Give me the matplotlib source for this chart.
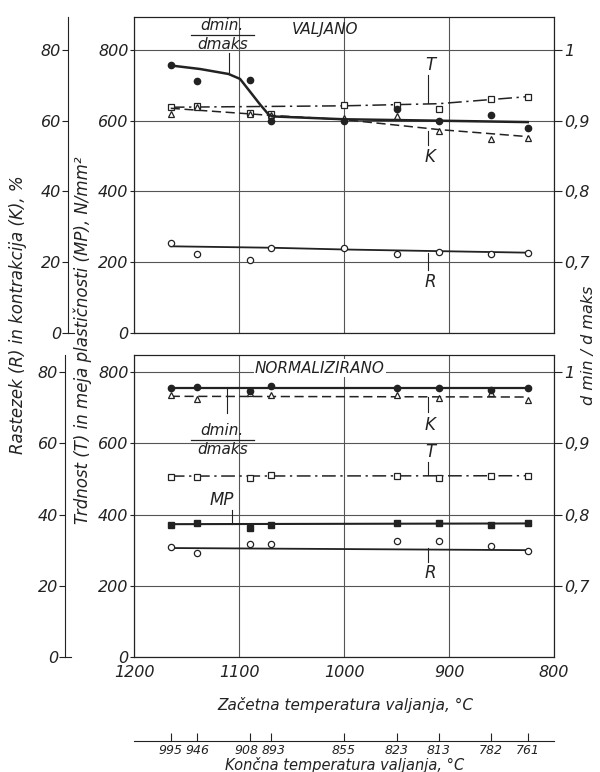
import matplotlib.pyplot as plt
import matplotlib.transforms as mtransforms
import numpy as np

plt.rcParams['font.family'] = ['DejaVu Sans']
plt.rcParams['font.style'] = 'italic'
plt.rcParams['text.color'] = '#222222'
plt.rcParams['axes.edgecolor'] = '#222222'
plt.rcParams['xtick.color'] = '#222222'
plt.rcParams['ytick.color'] = '#222222'

# začetna in končna temperatura valjanja, °C
t_start = [1165, 1140, 1090, 1070, 1000, 950, 910, 860, 825]
t_end = [995, 946, 908, 893, 855, 823, 813, 782, 761]

# VALJANO - izmerjene točke
val_d = [0.978, 0.956, 0.957, 0.900, 0.900, 0.916, 0.900, 0.908, 0.890]
val_T = [640, 642, 622, 618, 645, 645, 632, 662, 668]
val_K = [62.0, 63.8, 61.8, 61.5, 60.8, 61.2, 57.2, 54.8, 55.2]
val_R = [25.5, 22.4, 20.7, 24.1, 24.1, 22.4, 23.0, 22.4, 22.7]

# VALJANO - izravnane krivulje
val_d_fit_x = [1165, 1137, 1110, 1099, 1090, 1080, 1072, 1068, 1000, 910, 825]
val_d_fit = [0.978, 0.973, 0.966, 0.959, 0.942, 0.923, 0.909, 0.906, 0.902, 0.900, 0.898]
val_T_fit_x = [1165, 1000, 910, 825]
val_T_fit = [638, 642, 648, 668]
val_K_fit_x = [1165, 1070, 1000, 910, 825]
val_K_fit = [63.5, 61.5, 60.3, 57.5, 55.5]
val_R_fit_x = [1165, 1070, 1000, 825]
val_R_fit = [24.5, 24.1, 23.6, 22.7]

# NORMALIZIRANO - izmerjene točke
nan = np.nan
nor_d = [0.978, 0.979, 0.973, 0.981, nan, 0.977, 0.978, 0.975, 0.978]
nor_T = [506, 506, 503, 512, nan, 509, 503, 509, 509]
nor_MP = [370, 376, 362, 370, nan, 376, 376, 370, 376]
nor_K = [73.5, 72.5, 74.0, 73.5, nan, 73.5, 72.6, 74.0, 72.3]
nor_R = [30.8, 29.1, 31.7, 31.7, nan, 32.5, 32.5, 31.1, 29.7]

# NORMALIZIRANO - izravnane premice
nor_fit_x = [1165, 825]
nor_d_fit = [0.977, 0.977]
nor_T_fit = [508, 509]
nor_MP_fit = [373, 375]
nor_K_fit = [73.2, 73.0]
nor_R_fit = [30.6, 30.0]

ink = '#222222'
dash_K = (0, (6, 3))
dash_T = (0, (9, 3, 1.5, 3))

fig = plt.figure(figsize=(6, 7.72), dpi=100)
ax1 = fig.add_axes([134 / 600, 1 - 333 / 772, 420 / 600, 316 / 772])
ax2 = fig.add_axes([134 / 600, 1 - 657 / 772, 420 / 600, 302 / 772])


def setup(ax, ymax, pct_off, xlabels):
    ax.set_xlim(1200, 800)
    ax.set_ylim(0, ymax)
    ax.set_xticks([1200, 1100, 1000, 900, 800])
    ax.set_yticks([0, 200, 400, 600, 800])
    ax.grid(True, color='#555555', lw=0.8)
    ax.tick_params(axis='y', length=3, labelsize=11.5, pad=1)
    if xlabels:
        ax.tick_params(axis='x', length=0, labelsize=11.5, pad=6)
    else:
        ax.tick_params(axis='x', length=0, labelbottom=False)

    # os za rastezek in kontrakcijo, %
    axp = ax.twinx()
    axp.set_ylim(0, ymax / 10)
    axp.yaxis.set_ticks_position('left')
    axp.spines['left'].set_position(('axes', pct_off))
    axp.spines['left'].set_visible(True)
    for s in ['right', 'top', 'bottom']:
        axp.spines[s].set_visible(False)
    axp.set_yticks([0, 20, 40, 60, 80])
    axp.tick_params(axis='y', length=4, labelsize=11.5, pad=1)
    axp.plot([pct_off, pct_off + 0.015], [0, 0], color=ink, lw=0.8,
             transform=axp.transAxes, clip_on=False)

    # os za dmin/dmaks
    axr = ax.twinx()
    axr.set_ylim(0.6, 0.6 + ymax / 2000)
    axr.set_yticks([0.7, 0.8, 0.9, 1.0], labels=['0,7', '0,8', '0,9', '1'])
    axr.tick_params(axis='y', length=6, labelsize=11.5, pad=1)
    return axp, axr


ax1p, ax1r = setup(ax1, 893, -0.157, False)
ax2p, ax2r = setup(ax2, 848, -0.164, True)

mk = dict(mfc='white', mec=ink, ms=4.5, mew=0.9, ls='none')

# --- VALJANO ---
ax1r.plot(val_d_fit_x, val_d_fit, color=ink, lw=1.8)
ax1r.plot(t_start, val_d, marker='o', color=ink, ms=4.5, ls='none')
ax1.plot(val_T_fit_x, val_T_fit, color=ink, lw=1.1, ls=dash_T)
ax1.plot(t_start, val_T, marker='s', **mk)
ax1p.plot(val_K_fit_x, val_K_fit, color=ink, lw=1.1, ls=dash_K)
ax1p.plot(t_start, val_K, marker='^', **mk)
ax1p.plot(val_R_fit_x, val_R_fit, color=ink, lw=1.3)
ax1p.plot(t_start, val_R, marker='o', **mk)

# --- NORMALIZIRANO ---
ax2r.plot(nor_fit_x, nor_d_fit, color=ink, lw=1.6)
ax2r.plot(t_start, nor_d, marker='o', color=ink, ms=4.5, ls='none')
ax2p.plot(nor_fit_x, nor_K_fit, color=ink, lw=1.1, ls=dash_K)
ax2p.plot(t_start, nor_K, marker='^', **mk)
ax2.plot(nor_fit_x, nor_T_fit, color=ink, lw=1.1, ls=dash_T)
ax2.plot(t_start, nor_T, marker='s', **mk)
ax2.plot(nor_fit_x, nor_MP_fit, color=ink, lw=1.5)
ax2.plot(t_start, nor_MP, marker='s', color=ink, ms=4.5, ls='none')
ax2p.plot(nor_fit_x, nor_R_fit, color=ink, lw=1.3)
ax2p.plot(t_start, nor_R, marker='o', **mk)


def leader(ax, x, y0, y1):
    ax.plot([x, x], [y0, y1], color=ink, lw=0.8)


def fraction(ax, x, y, halfw):
    ax.text(x, y + 6, 'dmin.', ha='center', va='bottom', fontsize=11)
    ax.text(x, y - 6, 'dmaks', ha='center', va='top', fontsize=11)
    ax.plot([x + halfw, x - halfw], [y, y], color=ink, lw=0.9)


# oznake - zgoraj
ax1.text(1018, 857, 'VALJANO', ha='center', va='center', fontsize=11)
fraction(ax1, 1116, 842, 30)
leader(ax1, 1110, 790, 732)
ax1.text(918, 758, 'T', ha='center', va='center', fontsize=12)
leader(ax1, 920, 728, 650)
ax1.text(918, 498, 'K', ha='center', va='center', fontsize=12)
leader(ax1, 920, 571, 531)
ax1.text(918, 144, 'R', ha='center', va='center', fontsize=12)
leader(ax1, 920, 226, 178)

# oznake - spodaj
ax2.text(1023, 811, 'NORMALIZIRANO', ha='center', va='center', fontsize=11,
         bbox=dict(fc='white', ec='none', pad=1))
fraction(ax2, 1116, 609, 30)
leader(ax2, 1111, 755, 685)
ax2.text(1116, 441, 'MP', ha='center', va='center', fontsize=12)
leader(ax2, 1107, 413, 373)
ax2.text(918, 651, 'K', ha='center', va='center', fontsize=12)
leader(ax2, 920, 730, 688)
ax2.text(918, 575, 'T', ha='center', va='center', fontsize=12)
leader(ax2, 920, 547, 512)
ax2.text(918, 236, 'R', ha='center', va='center', fontsize=12)
leader(ax2, 920, 306, 267)

# končna temperatura valjanja
axe = ax2.twiny()
axe.set_xlim(1200, 800)
axe.xaxis.set_ticks_position('bottom')
axe.spines['bottom'].set_position(('axes', -0.278))
for s in ['left', 'right', 'top']:
    axe.spines[s].set_visible(False)
axe.set_xticks(t_start, labels=[str(v) for v in t_end])
axe.tick_params(axis='x', direction='in', length=6, labelsize=9, pad=2)
# 908 in 893 sta zelo blizu - rahlo razmakni
labs = axe.get_xticklabels()
labs[2].set_transform(labs[2].get_transform() +
                      mtransforms.ScaledTranslation(-3 / 100, 0, fig.dpi_scale_trans))
labs[3].set_transform(labs[3].get_transform() +
                      mtransforms.ScaledTranslation(3 / 100, 0, fig.dpi_scale_trans))

fig.text(345 / 600, 1 - 705 / 772, 'Začetna temperatura valjanja, °C',
         ha='center', va='center', fontsize=11)
fig.text(345 / 600, 1 - 765 / 772, 'Končna temperatura valjanja, °C',
         ha='center', va='center', fontsize=10.5)
fig.text(18 / 600, 1 - 315 / 772, 'Rastezek (R) in kontrakcija (K), %',
         rotation=90, ha='center', va='center', fontsize=12)
fig.text(83 / 600, 1 - 340 / 772, 'Trdnost (T) in meja plastičnosti (MP), N/mm²',
         rotation=90, ha='center', va='center', fontsize=12)
fig.text(588 / 600, 1 - 345 / 772, 'd min / d maks',
         rotation=90, ha='center', va='center', fontsize=11.5)

fig.savefig('out.png', dpi=100)
